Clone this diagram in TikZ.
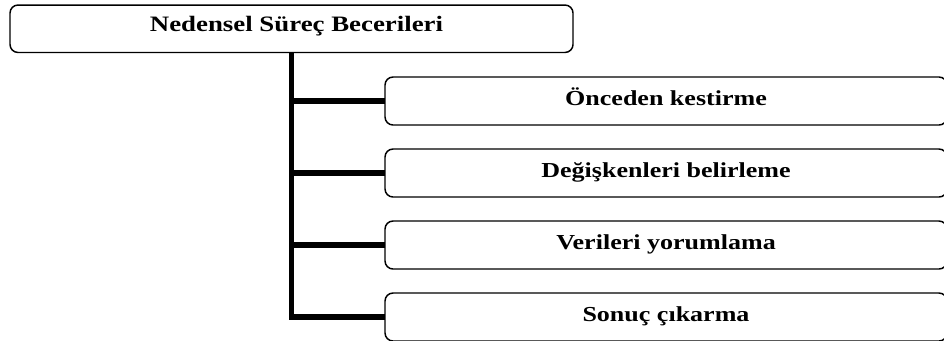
\documentclass[tikz,border=0pt]{standalone}
\usepackage{fontspec}
\setmainfont[FakeStretch=1.22]{Liberation Serif}
\begin{document}
\begin{tikzpicture}[x=0.75pt,y=-0.75pt,
  box/.style={draw=black,line width=1.1pt,rounded corners=6pt,fill=white,
    inner sep=0pt,outer sep=0pt,align=center,font=\bfseries\fontsize{16}{19}\selectfont},
  rootbox/.style={box,minimum width=422.25pt,minimum height=35.6pt,
    text height=11pt,text depth=6.6pt,font=\bfseries\fontsize{16.5}{19}\selectfont},
  leafbox/.style={box,minimum width=421.5pt,minimum height=36pt,
    text height=11pt,text depth=4.25pt},
  trunk/.style={line width=4.1pt,line join=miter,line cap=rect}]
\useasboundingbox (0,0) rectangle (944,340);
\clip (0,0) rectangle (944,340);

% root and the four sub-skills
\node[rootbox] (top) at (291.5,28.75) {\hspace*{7.5pt}Nedensel Süreç Becerileri};
\node[leafbox] (c1) at (666,101) {Önceden kestirme};
\node[leafbox] (c2) at (666,173) {Değişkenleri belirleme};
\node[leafbox] (c3) at (666,245) {Verileri yorumlama};
\node[leafbox] (c4) at (666,317) {Sonuç çıkarma};

% trunk from the root down to the last branch
\draw[trunk,line cap=butt] (top.south) |- (c4.west);
\draw[trunk,line cap=butt] (top.south |- c1.west) -- (c1.west);
\draw[trunk,line cap=butt] (top.south |- c2.west) -- (c2.west);
\draw[trunk,line cap=butt] (top.south |- c3.west) -- (c3.west);
\end{tikzpicture}
\end{document}
